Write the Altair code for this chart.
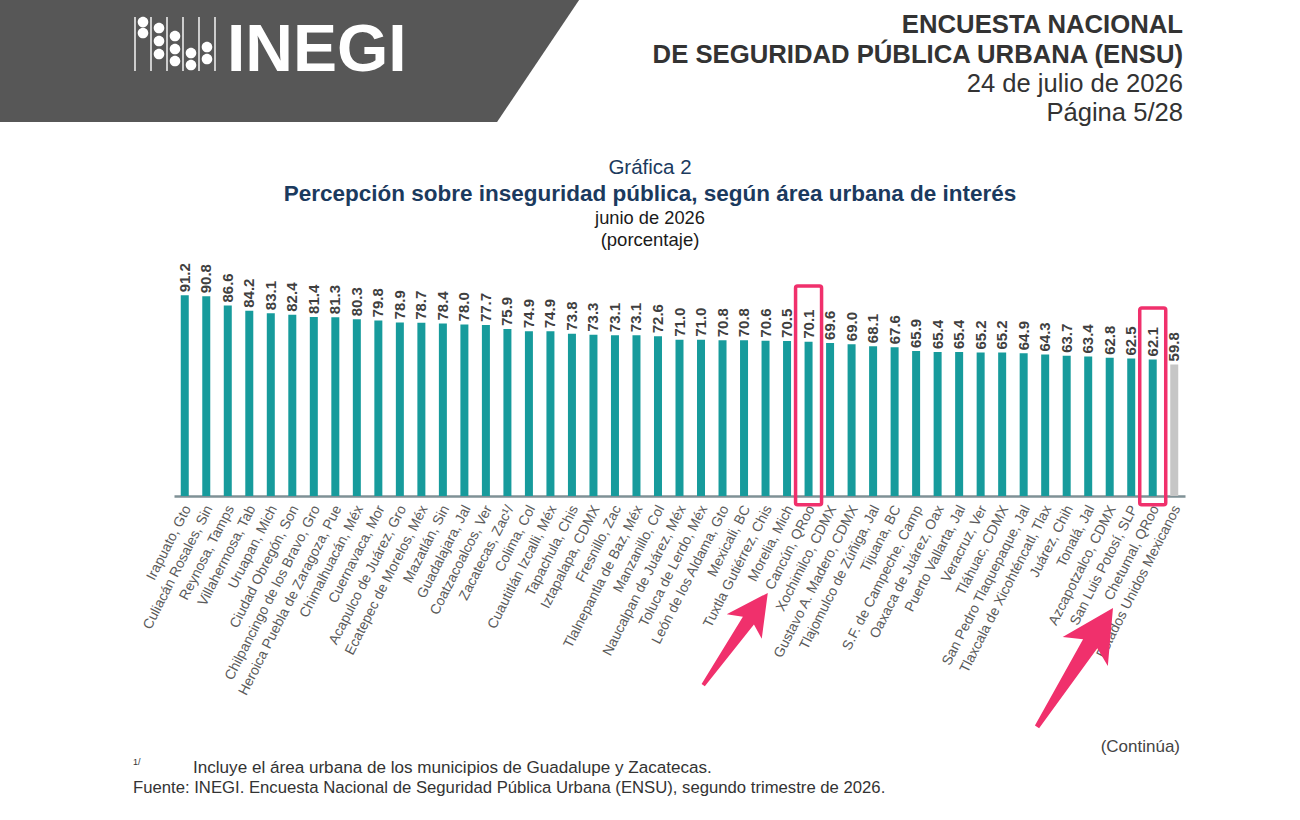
import altair as alt
import pandas as pd

# ---------------- data ----------------
cities = [
    "Irapuato, Gto", "Culiacán Rosales, Sin", "Reynosa, Tamps", "Villahermosa, Tab",
    "Uruapan, Mich", "Ciudad Obregón, Son", "Chilpancingo de los Bravo, Gro",
    "Heroica Puebla de Zaragoza, Pue", "Chimalhuacán, Méx", "Cuernavaca, Mor",
    "Acapulco de Juárez, Gro", "Ecatepec de Morelos, Méx", "Mazatlán, Sin",
    "Guadalajara, Jal", "Coatzacoalcos, Ver", "Zacatecas, Zac¹/", "Colima, Col",
    "Cuautitlán Izcalli, Méx", "Tapachula, Chis", "Iztapalapa, CDMX", "Fresnillo, Zac",
    "Tlalnepantla de Baz, Méx", "Manzanillo, Col", "Naucalpan de Juárez, Méx",
    "Toluca de Lerdo, Méx", "León de los Aldama, Gto", "Mexicali, BC",
    "Tuxtla Gutiérrez, Chis", "Morelia, Mich", "Cancún, QRoo", "Xochimilco, CDMX",
    "Gustavo A. Madero, CDMX", "Tlajomulco de Zúñiga, Jal", "Tijuana, BC",
    "S.F. de Campeche, Camp", "Oaxaca de Juárez, Oax", "Puerto Vallarta, Jal",
    "Veracruz, Ver", "Tláhuac, CDMX", "San Pedro Tlaquepaque, Jal",
    "Tlaxcala de Xicohténcatl, Tlax", "Juárez, Chih", "Tonalá, Jal",
    "Azcapotzalco, CDMX", "San Luis Potosí, SLP", "Chetumal, QRoo",
    "Estados Unidos Mexicanos",
]
values = [
    91.2, 90.8, 86.6, 84.2, 83.1, 82.4, 81.4, 81.3, 80.3, 79.8, 78.9, 78.7, 78.4,
    78.0, 77.7, 75.9, 74.9, 74.9, 73.8, 73.3, 73.1, 73.1, 72.6, 71.0, 71.0, 70.8,
    70.8, 70.6, 70.5, 70.1, 69.6, 69.0, 68.1, 67.6, 65.9, 65.4, 65.4, 65.2, 65.2,
    64.9, 64.3, 63.7, 63.4, 62.8, 62.5, 62.1, 59.8,
]
national = "Estados Unidos Mexicanos"
highlight_cities = ["Cancún, QRoo", "Chetumal, QRoo"]
highlight_top = [95.5, 85.5]
highlight_bottom = [-4.0, -4.0]

df = pd.DataFrame({"ciudad": cities, "valor": values})
hl = pd.DataFrame({"ciudad": highlight_cities, "top": highlight_top, "bottom": highlight_bottom})

# ---------------- layout ----------------
FONT = "Liberation Sans"
W, H = 1011, 220
OX, OY = 174, 276          # page position of the plot area
TEAL = "#179b9c"
PINK = "#f0306c"

xscale = alt.Scale(domain=cities, paddingInner=0, paddingOuter=0)
yscale = alt.Scale(domain=[0, 100])

x_enc = alt.X(
    "ciudad:N", scale=xscale,
    axis=alt.Axis(
        title=None, labelAngle=-63, labelAlign="right", labelBaseline="middle",
        labelFontSize=14, labelFont=FONT, labelColor="#5a5a5a", labelPadding=10,
        labelOffset=3, labelLimit=400, labelOverlap=False, ticks=False, grid=False,
        domainColor="#7f9196", domainWidth=2.5,
    ),
)

bars = alt.Chart(df).mark_bar(size=8).encode(
    x=x_enc,
    y=alt.Y("valor:Q", scale=yscale, axis=None),
    color=alt.condition(alt.datum.ciudad == national, alt.value("#c6c6c6"), alt.value(TEAL)),
)

labels = alt.Chart(df).mark_text(
    angle=270, align="left", baseline="middle", dx=3,
    fontSize=15, fontWeight="bold", font=FONT, color="#404040",
).encode(
    x=x_enc,
    y=alt.Y("valor:Q", scale=yscale, axis=None),
    text=alt.Text("valor:Q", format=".1f"),
)

boxes = alt.Chart(hl).mark_bar(
    size=26, fillOpacity=0, stroke=PINK, strokeWidth=3.5, cornerRadius=2,
).encode(
    x=x_enc,
    y=alt.Y("top:Q", scale=yscale, axis=None),
    y2="bottom:Q",
)

one = pd.DataFrame({"a": [0]})

def shape_layer(path, cx, cy, side, color, angle=0):
    return alt.Chart(one).mark_point(
        shape=path, size=side * side, filled=True, fill=color, color=color,
        strokeWidth=0, opacity=1, angle=angle,
    ).encode(x=alt.value(cx - OX), y=alt.value(cy - OY))

ARROW = ("M0,-1 L0.38,-0.27 L0.12,-0.40 L0.035,1 L-0.035,1 "
         "L-0.12,-0.40 L-0.38,-0.27 Z")
arrow1 = shape_layer(ARROW, 735.5, 639, 112.6, PINK, 35)
arrow2 = shape_layer(ARROW, 1075, 667.5, 141, PINK, 32.6)

# header band (parallelogram)
HEADER = "M-1.01,-0.215 L1,-0.215 L0.714,0.2103 L-1.01,0.2103 Z"
header = shape_layer(HEADER, 290, 61, 580, "#575757")

# logo: abacus-like lines and beads
def logo_path():
    cx0, cy0, unit = 175.0, 44.0, 50.0
    def u(px): return (px - cx0) / unit
    def v(py): return (py - cy0) / unit
    parts = []
    for lx in [135, 151, 167, 183, 199, 215]:
        x1, x2 = u(lx - 0.7), u(lx + 0.7)
        y1, y2 = v(17), v(71)
        parts.append(f"M{x1:.4f},{y1:.4f}L{x2:.4f},{y1:.4f}L{x2:.4f},{y2:.4f}L{x1:.4f},{y2:.4f}Z")
    beads = {143: [22, 33], 159: [28, 41, 54], 175: [36, 49, 61], 191: [53, 65], 207: [47, 59]}
    r = 5.3 / unit
    for bx, ys in beads.items():
        for by in ys:
            x, y = u(bx), v(by)
            parts.append(
                f"M{x - r:.4f},{y:.4f}A{r:.4f},{r:.4f} 0 1,0 {x + r:.4f},{y:.4f}"
                f"A{r:.4f},{r:.4f} 0 1,0 {x - r:.4f},{y:.4f}Z"
            )
    return "".join(parts)

logo = shape_layer(logo_path(), 175, 44, 100, "#ffffff")


def txt(s, x, y, size, weight="normal", color="#333333", align="left", font=FONT):
    return alt.Chart(pd.DataFrame({"t": [s]})).mark_text(
        align=align, baseline="alphabetic", fontSize=size, fontWeight=weight,
        color=color, font=font,
    ).encode(x=alt.value(x - OX), y=alt.value(y - OY), text="t:N")

NAVY = "#1b3a5e"
texts = [
    txt("INEGI", 227, 71, 66, "bold", "#ffffff"),
    txt("ENCUESTA NACIONAL", 1183, 33, 25.7, "bold", "#333333", "right"),
    txt("DE SEGURIDAD PÚBLICA URBANA (ENSU)", 1183, 63, 25.7, "bold", "#333333", "right"),
    txt("24 de julio de 2026", 1183, 92, 25.6, "normal", "#333333", "right"),
    txt("Página 5/28", 1183, 121, 25.6, "normal", "#333333", "right"),
    txt("Gráfica 2", 650, 174, 20.5, "normal", NAVY, "center"),
    txt("Percepción sobre inseguridad pública, según área urbana de interés", 650, 201, 22.5, "bold", NAVY, "center"),
    txt("junio de 2026", 650, 224, 18.3, "normal", "#1a1a1a", "center"),
    txt("(porcentaje)", 650, 246, 18.5, "normal", "#1a1a1a", "center"),
    txt("(Continúa)", 1180, 752, 17, "normal", "#444444", "right"),
    txt("1/", 133, 765, 9, "normal", "#333333"),
    txt("Incluye el área urbana de los municipios de Guadalupe y Zacatecas.", 193, 773, 17.1, "normal", "#333333"),
    txt("Fuente: INEGI. Encuesta Nacional de Seguridad Pública Urbana (ENSU), segundo trimestre de 2026.", 133, 793, 16.7, "normal", "#333333"),
]

chart = alt.layer(
    header, logo, bars, labels, boxes, arrow1, arrow2, *texts
).properties(
    width=W, height=H,
    padding={"left": OX, "top": OY, "right": 1300 - OX - W, "bottom": 820 - OY - H},
    autosize=alt.AutoSizeParams(type="none"),
    background="#ffffff",
).configure_view(stroke=None)

chart.save("out.html", embed_options={"renderer": "svg", "actions": False})
